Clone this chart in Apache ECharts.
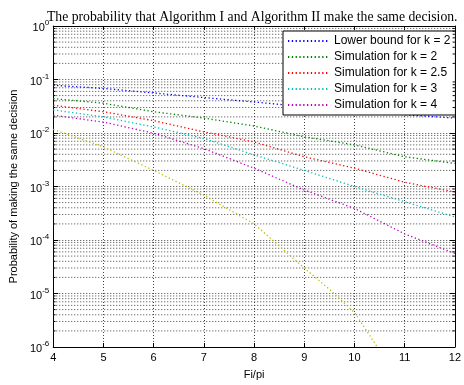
<!DOCTYPE html>
<html><head><meta charset="utf-8">
<script src="https://cdn.jsdelivr.net/npm/echarts@6/dist/echarts.min.js"></script>
<style>html,body{margin:0;padding:0;background:#fff}#c{width:464px;height:385px}</style>
</head><body><div id="c"></div>
<script>
const titleText = 'The probability that Algorithm I and Algorithm II make the same decision.';
const xLabel = 'Fi/pi';
const yLabel = 'Probability of making the same decision';
const xTicks = [4, 5, 6, 7, 8, 9, 10, 11, 12];
const yTicks = [1e-6, 1e-5, 1e-4, 1e-3, 1e-2, 1e-1, 1];
const seriesNames = ['Lower bound for k = 2', 'Simulation for k = 2', 'Simulation for k = 2.5', 'Simulation for k = 3', 'Simulation for k = 4'];
const xVals = [4, 5, 6, 7, 8, 9, 10, 11, 12];
const lowerBoundK2 = [0.078, 0.068, 0.056, 0.046, 0.038, 0.031, 0.026, 0.022, 0.019];
const simK2 = [0.044, 0.036, 0.025, 0.019, 0.0135, 0.0085, 0.006, 0.0036, 0.0027];
const simK25 = [0.033, 0.025, 0.017, 0.0105, 0.0068, 0.0036, 0.0022, 0.0012, 0.00079];
const simK3 = [0.027, 0.020, 0.013, 0.0079, 0.0039, 0.0020, 0.0010, 0.00052, 0.00027];
const simK4 = [0.0215, 0.016, 0.0099, 0.0051, 0.0022, 0.00086, 0.00039, 0.00013, 0.000056];
const yellowX = [4, 5, 6, 7, 8, 9, 9.5, 10, 10.4, 10.45];
const yellowY = [0.0117, 0.0055, 0.002, 0.00069, 0.0002, 0.00003, 0.000012, 0.0000044, 0.0000012, 0.000001];
const colors = ['#0000ff', '#008000', '#ff0000', '#00bfbf', '#bf00bf', '#bfbf00'];

const xMin = xTicks[0], xMax = xTicks[xTicks.length - 1];
const minorVals = [];
for (let d = -6; d < 0; d++) for (let m = 2; m <= 9; m++) minorVals.push(m * Math.pow(10, d));

// minor grid (2..9 per decade) as a broken line series through the log scale
const minorGridData = [];
minorVals.forEach(v => { minorGridData.push([xMin, v], [xMax, v], [xMax, '-']); });
// minor ticks at left and right edges
const tickLen = 0.075;
const minorTickData = [];
minorVals.forEach(v => {
  minorTickData.push([xMin, v], [xMin + tickLen * 0.6, v], [xMin, '-']);
  minorTickData.push([xMax - tickLen * 0.6, v], [xMax, v], [xMax, '-']);
});

const gridLine = { show: true, lineStyle: { color: '#444', type: [1, 2], width: 1 } };
const lineStyleOf = (c) => ({ color: c, width: 1.3, type: [1.3, 2.5] });
const allY = [lowerBoundK2, simK2, simK25, simK3, simK4];

const series = [{
  name: 'minorGrid', type: 'line', showSymbol: false, symbol: 'none', silent: true,
  data: minorGridData, connectNulls: false,
  lineStyle: { color: '#444', type: [1, 2], width: 1 }, z: 1
}, {
  name: 'minorTicks', type: 'line', showSymbol: false, symbol: 'none', silent: true,
  data: minorTickData, connectNulls: false,
  lineStyle: { color: '#000', width: 1 }, z: 4
}, {
  name: 'yellow', type: 'line', showSymbol: false, symbol: 'none',
  data: yellowX.map((x, j) => [x, yellowY[j]]),
  lineStyle: lineStyleOf(colors[5]), itemStyle: { color: colors[5] }, z: 3
}];
allY.forEach((arr, i) => series.push({
  name: seriesNames[i], type: 'line', showSymbol: false, symbol: 'none',
  data: xVals.map((x, j) => [x, arr[j]]),
  lineStyle: lineStyleOf(colors[i]), itemStyle: { color: colors[i] }, z: 3
}));

const chart = echarts.init(document.getElementById('c'), null, { renderer: 'canvas' });
chart.setOption({
  animation: false,
  title: { text: titleText, left: 47, top: 10, padding: 0, textStyle: { fontFamily: 'Liberation Serif', fontSize: 13.7, fontWeight: 'normal', color: '#000' } },
  grid: { left: 52, top: 26, right: 4, bottom: 38 },
  legend: {
    data: seriesNames, orient: 'vertical', left: 283, top: 31,
    backgroundColor: '#fff', borderColor: '#000', borderWidth: 1,
    padding: [4, 5, 4, 4], itemGap: 4, itemWidth: 41, itemHeight: 14,
    itemStyle: { opacity: 0 },
    textStyle: { fontFamily: 'Liberation Sans', fontSize: 12, color: '#000' }
  },
  xAxis: [{
    type: 'value', min: xMin, max: xMax, interval: 1,
    name: xLabel, nameLocation: 'middle', nameGap: 22,
    nameTextStyle: { fontFamily: 'Liberation Sans', fontSize: 11, color: '#000' },
    axisLine: { lineStyle: { color: '#000' } },
    axisTick: { inside: true, length: 4, lineStyle: { color: '#000' } },
    axisLabel: { fontFamily: 'Liberation Sans', fontSize: 11, color: '#000', margin: 5 },
    splitLine: gridLine
  }, {
    type: 'value', min: xMin, max: xMax, interval: 1, position: 'top',
    axisLine: { show: true, lineStyle: { color: '#000' } },
    axisTick: { show: true, inside: true, length: 4, lineStyle: { color: '#000' } },
    axisLabel: { show: false }, splitLine: { show: false }
  }],
  yAxis: [{
    type: 'log', logBase: 10, min: yTicks[0], max: yTicks[yTicks.length - 1],
    name: yLabel, nameLocation: 'middle', nameGap: 33,
    nameTextStyle: { fontFamily: 'Liberation Sans', fontSize: 11, color: '#000' },
    axisLine: { show: true, lineStyle: { color: '#000' } },
    axisTick: { show: true, inside: true, length: 5, lineStyle: { color: '#000' } },
    axisLabel: {
      margin: 4, color: '#000',
      formatter: (v) => '{b|10}{s|' + Math.round(Math.log10(v)) + '}',
      rich: {
        b: { fontFamily: 'Liberation Sans', fontSize: 11, color: '#000', padding: [4, 0, 0, 0] },
        s: { fontFamily: 'Liberation Sans', fontSize: 8, color: '#000', padding: [0, 0, 6, 0] }
      }
    },
    splitLine: gridLine
  }, {
    type: 'log', logBase: 10, min: yTicks[0], max: yTicks[yTicks.length - 1], position: 'right',
    axisLine: { show: true, lineStyle: { color: '#000' } },
    axisTick: { show: true, inside: true, length: 5, lineStyle: { color: '#000' } },
    axisLabel: { show: false }, splitLine: { show: false }
  }],
  series: series
});
</script></body></html>
